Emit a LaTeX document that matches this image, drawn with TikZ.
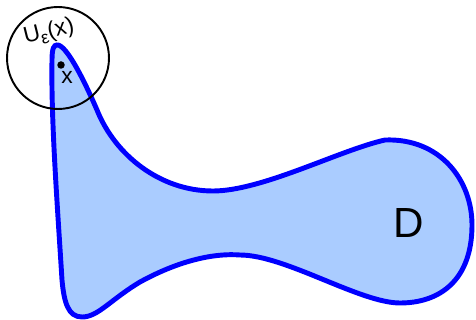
\documentclass[tikz,border=0pt]{standalone}
\usepackage{fontspec}
\setmainfont{Liberation Sans}
\usetikzlibrary{positioning}

\definecolor{regionfill}{RGB}{170,204,255}

\begin{document}
\begin{tikzpicture}[x=0.02cm, y=-0.02cm]
        \useasboundingbox (0,0) rectangle (476,320);

        % Region D
        \draw[blue, line width=2.8pt, fill=regionfill]
          (57,45) .. controls (66,44) and (84,80) .. (97,110)
          .. controls (115,155) and (160,191) .. (213,191)
          .. controls (262,191) and (340,150) .. (385,140)
          .. controls (440,138) and (472,180) .. (472,225)
          .. controls (472,280) and (440,303) .. (400,303)
          .. controls (360,303) and (285,255) .. (240,255)
          .. controls (215,253) and (180,260) .. (140,282)
          .. controls (110,300) and (98,317) .. (82,317)
          .. controls (68,317) and (64,302) .. (62,280)
          .. controls (57,200) and (51,120) .. (52,60)
          .. controls (52,48) and (54,45) .. cycle;

        % Nodes
        \node (ball) at (58,58) [circle, draw, line width=1.1pt, minimum size=2.04cm, inner sep=0pt] {};
        \node (pt) at (61,65) [circle, fill, inner sep=0pt, minimum size=0.15cm] {};
        \node (ptlabel) at (67,77) {\fontsize{13}{15}\selectfont x};
        \node (ulabel) at (49,32) [rotate=14] {\fontsize{13}{15}\selectfont U\raisebox{-0.35ex}{\fontsize{10}{10}\selectfont ε}(x)};
        \node (dlabel) at (409,223) {\fontsize{24}{28}\selectfont D};
      \end{tikzpicture}
\end{document}
